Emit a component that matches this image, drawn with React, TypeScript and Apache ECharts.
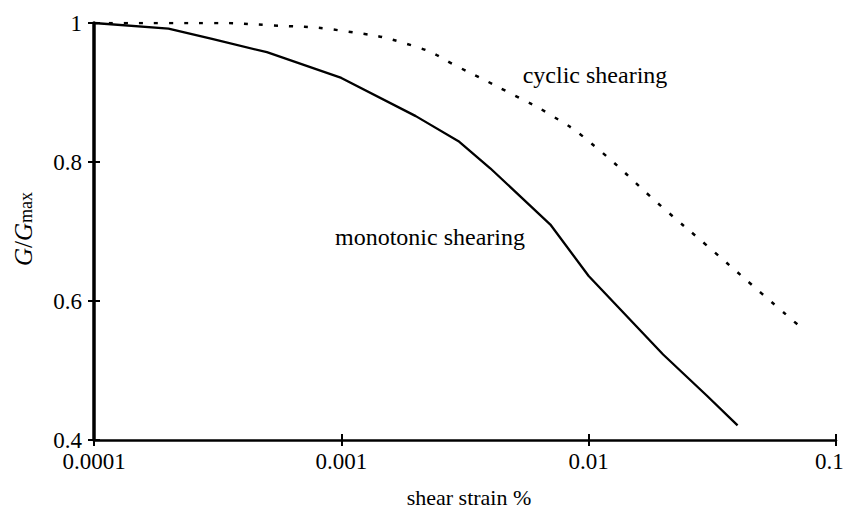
import React, { useEffect, useRef } from "react";
import * as echarts from "echarts";

const strainTicks = ["0.0001", "0.001", "0.01", "0.1"];
const yTickLabels = ["0.4", "0.6", "0.8", "1"];

const monoStrain = [0.0001, 0.0002, 0.0003, 0.0005, 0.001, 0.002, 0.003, 0.004, 0.007, 0.01, 0.02, 0.03, 0.04];
const monoG = [1.0, 0.992, 0.977, 0.958, 0.921, 0.866, 0.829, 0.791, 0.71, 0.636, 0.523, 0.464, 0.421];

const cyclicStrain = [0.0001, 0.0002, 0.0003, 0.0005, 0.001, 0.002, 0.003, 0.005, 0.007, 0.01, 0.02, 0.03, 0.05, 0.07];
const cyclicG = [1.0, 1.0, 1.0, 0.997, 0.989, 0.966, 0.936, 0.896, 0.868, 0.83, 0.734, 0.68, 0.611, 0.566];

const FONT = "'Liberation Serif', 'Times New Roman', serif";

export default function App() {
  const ref = useRef<HTMLDivElement>(null);
  useEffect(() => {
    if (!ref.current) return;
    const chart = echarts.init(ref.current, undefined, { renderer: "svg" });
    const xLabel = (v: number) => {
      const i = Math.round(Math.log10(v)) + 4;
      const s = strainTicks[i] ?? "";
      return i === strainTicks.length - 1 ? `{last|${s}}` : s;
    };
    const yLabel = (v: number) => {
      const i = Math.round((v - 0.4) / 0.2);
      return yTickLabels[i] ?? "";
    };
    const baseX = {
      type: "log" as const,
      logBase: 10,
      min: 0.0001,
      max: 0.1,
      position: "bottom" as const,
      splitLine: { show: false },
      minorTick: { show: false },
    };
    const baseY = {
      type: "value" as const,
      min: 0.4,
      max: 1,
      interval: 0.2,
      position: "left" as const,
      splitLine: { show: false },
    };
    chart.setOption({
      animation: false,
      backgroundColor: "#ffffff",
      grid: {
        left: 94,
        right: 10,
        top: 23,
        bottom: 83,
        containLabel: false,
        outerBoundsMode: "none",
      },
      xAxis: [
        {
          ...baseX,
          axisLine: { show: true, lineStyle: { color: "#000", width: 2.5 } },
          axisTick: { show: true, inside: false, length: 6, lineStyle: { color: "#000", width: 2 } },
          axisLabel: {
            show: true,
            margin: 10,
            color: "#000",
            fontFamily: FONT,
            fontSize: 23,
            formatter: xLabel,
            rich: {
              last: {
                fontFamily: FONT,
                fontSize: 23,
                color: "#000",
                width: 42,
                align: "left",
              },
            },
          },
          name: "shear strain %",
          nameLocation: "middle",
          nameGap: 46,
          nameTextStyle: { color: "#000", fontFamily: FONT, fontSize: 22, padding: [0, 0, 0, 8] },
        },
        {
          ...baseX,
          axisLine: { show: false },
          axisTick: { show: true, inside: true, length: 6, lineStyle: { color: "#000", width: 2 } },
          axisLabel: { show: false },
        },
      ],
      yAxis: [
        {
          ...baseY,
          axisLine: { show: true, lineStyle: { color: "#000", width: 3.5 } },
          axisTick: { show: true, inside: false, length: 6, lineStyle: { color: "#000", width: 2 } },
          axisLabel: {
            show: true,
            margin: 12,
            color: "#000",
            fontFamily: FONT,
            fontSize: 23,
            formatter: yLabel,
          },
        },
        {
          ...baseY,
          axisLine: { show: false },
          axisTick: { show: true, inside: true, length: 6, lineStyle: { color: "#000", width: 2 } },
          axisLabel: { show: false },
        },
      ],
      graphic: [
        {
          type: "text",
          x: 23,
          y: 229,
          rotation: Math.PI / 2,
          style: {
            text: "{g|G}{n|/}{g|G}{s|max}",
            fill: "#000",
            fontFamily: FONT,
            fontSize: 25,
            align: "center",
            verticalAlign: "middle",
            rich: {
              g: { fontStyle: "italic", fontFamily: FONT, fontSize: 25, fill: "#000" },
              n: { fontFamily: FONT, fontSize: 25, fill: "#000" },
              s: { fontFamily: FONT, fontSize: 18, fill: "#000", padding: [6, 0, 0, 0] },
            },
          },
        },
        {
          type: "text",
          x: 595,
          y: 75,
          style: {
            text: "cyclic shearing",
            fill: "#000",
            fontFamily: FONT,
            fontSize: 24,
            align: "center",
            verticalAlign: "middle",
          },
        },
        {
          type: "text",
          x: 430,
          y: 237,
          style: {
            text: "monotonic shearing",
            fill: "#000",
            fontFamily: FONT,
            fontSize: 24,
            align: "center",
            verticalAlign: "middle",
          },
        },
      ],
      series: [
        {
          type: "line",
          name: "monotonic shearing",
          xAxisIndex: 0,
          yAxisIndex: 0,
          data: monoStrain.map((x, i) => [x, monoG[i]]),
          symbol: "none",
          smooth: false,
          lineStyle: { color: "#000", width: 2.3 },
        },
        {
          type: "line",
          name: "cyclic shearing",
          xAxisIndex: 0,
          yAxisIndex: 0,
          data: cyclicStrain.map((x, i) => [x, cyclicG[i]]),
          symbol: "none",
          smooth: true,
          lineStyle: { color: "#000", width: 2.5, type: [4, 11] },
        },
      ],
    });
    return () => chart.dispose();
  }, []);
  return <div ref={ref} style={{ width: 846, height: 523, position: "absolute", left: 0, top: 0 }} />;
}
